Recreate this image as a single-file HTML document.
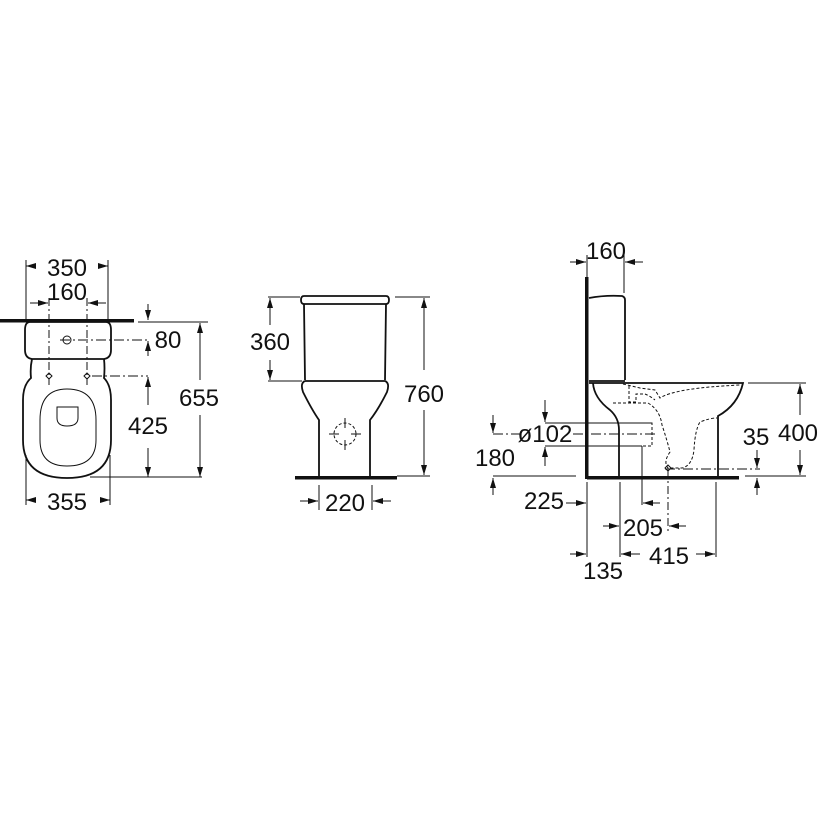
<!DOCTYPE html>
<html><head><meta charset="utf-8"><style>
html,body{margin:0;padding:0;background:#fff}
svg{display:block}
text{font-family:"Liberation Sans",sans-serif;font-size:24px;fill:#111}
</style></head><body>
<svg width="819" height="819" viewBox="0 0 819 819" xmlns="http://www.w3.org/2000/svg">
<defs>
<marker id="a" viewBox="0 0 10 6" refX="10" refY="3" markerWidth="10" markerHeight="6" markerUnits="userSpaceOnUse" orient="auto"><path d="M0,0 L10,3 L0,6 Z" fill="#111"/></marker>
</defs>
<g fill="none" stroke="#111" stroke-width="1">
<!-- LEFT VIEW -->
<line x1="26" y1="260" x2="26" y2="320"/><line x1="108" y1="260" x2="108" y2="320"/>
<line x1="36" y1="266" x2="26" y2="266" marker-end="url(#a)"/><line x1="98" y1="266" x2="108" y2="266" marker-end="url(#a)"/>
<line x1="49" y1="298" x2="49" y2="385" stroke-dasharray="8,3,2,3"/><line x1="87" y1="298" x2="87" y2="385" stroke-dasharray="8,3,2,3"/>
<line x1="30" y1="303" x2="48" y2="303" marker-end="url(#a)"/><line x1="106" y1="303" x2="88" y2="303" marker-end="url(#a)"/>
<rect x="0" y="319" width="134" height="3.5" fill="#111" stroke="none"/>
<path d="M30,322 H106 Q111,322 111,330 V350 Q111,358 104,359 H32 Q25,358 25,350 V330 Q25,322 30,322 Z" stroke-width="1.8"/>
<circle cx="67" cy="340" r="4"/>
<line x1="60" y1="340" x2="148" y2="340" stroke-dasharray="10,3,2,3"/>
<path d="M32,359 Q30,368 31,378 Q23,385 23,400 V440 Q23,478 67,478 Q111,478 111,440 V400 Q111,385 104,378 Q105,368 104,359" stroke-width="1.8"/>
<path d="M67,389 Q96,389 96,420 V440 Q96,466 67,466 Q40,466 40,440 V420 Q40,389 67,389 Z"/>
<path d="M57,407 H78 V418 Q78,426 67,426 Q57,426 57,418 Z"/>
<path d="M49,373 L52,376 L49,379 L46,376 Z M87,373 L90,376 L87,379 L84,376 Z"/>
<line x1="92" y1="376" x2="148" y2="376" stroke-dasharray="10,3,2,3"/>
<line x1="148" y1="304" x2="148" y2="320" marker-end="url(#a)"/><line x1="148" y1="356" x2="148" y2="341" marker-end="url(#a)"/>
<line x1="138" y1="322" x2="208" y2="322"/>
<line x1="148" y1="405" x2="148" y2="377" marker-end="url(#a)"/><line x1="148" y1="448" x2="148" y2="477" marker-end="url(#a)"/>
<line x1="200" y1="380" x2="200" y2="323" marker-end="url(#a)"/><line x1="200" y1="415" x2="200" y2="477" marker-end="url(#a)"/>
<line x1="90" y1="477" x2="202" y2="477"/>
<line x1="26" y1="455" x2="26" y2="505"/><line x1="110" y1="455" x2="110" y2="505"/>
<line x1="36" y1="500" x2="26" y2="500" marker-end="url(#a)"/><line x1="100" y1="500" x2="110" y2="500" marker-end="url(#a)"/>
<!-- MIDDLE VIEW -->
<path d="M304,296 H386 Q389,296 389,300 Q389,304 386,304 H304 Q301,304 301,300 Q301,296 304,296 Z" stroke-width="1.8"/>
<path d="M304,304 L305,380 M386,304 L385,380" stroke-width="1.8"/>
<path d="M305,381 H385 Q390,383 387,392 Q378,410 370,420 V476 M305,381 Q300,383 303,392 Q312,410 319,420 V476" stroke-width="1.8"/>
<rect x="295" y="476" width="102" height="3.5" fill="#111" stroke="none"/>
<circle cx="345" cy="434" r="11" stroke-dasharray="3,2"/>
<path d="M345,418 V428 M345,440 V450 M329,434 H339 M351,434 H361"/>
<line x1="268" y1="297" x2="300" y2="297"/><line x1="268" y1="381" x2="302" y2="381"/>
<line x1="270" y1="325" x2="270" y2="298" marker-end="url(#a)"/><line x1="270" y1="360" x2="270" y2="380" marker-end="url(#a)"/>
<line x1="395" y1="297" x2="430" y2="297"/><line x1="397" y1="476" x2="430" y2="476"/>
<line x1="424" y1="370" x2="424" y2="298" marker-end="url(#a)"/><line x1="424" y1="410" x2="424" y2="475" marker-end="url(#a)"/>
<line x1="319" y1="485" x2="319" y2="510"/><line x1="372" y1="485" x2="372" y2="510"/>
<line x1="300" y1="501" x2="318" y2="501" marker-end="url(#a)"/><line x1="391" y1="501" x2="373" y2="501" marker-end="url(#a)"/>
<!-- RIGHT VIEW -->
<rect x="585" y="277" width="3.5" height="202" fill="#111" stroke="none"/>
<line x1="587" y1="255" x2="587" y2="277"/><line x1="624" y1="255" x2="624" y2="293"/>
<line x1="570" y1="262" x2="586" y2="262" marker-end="url(#a)"/><line x1="643" y1="262" x2="625" y2="262" marker-end="url(#a)"/>
<path d="M589,298 Q605,295 622,296 Q625,297 625,300 V380" stroke-width="1.8"/>
<line x1="589" y1="381" x2="625" y2="381" stroke-width="1.8"/>
<path d="M589,383 H743 Q738,405 718,416 V477" stroke-width="1.8"/>
<path d="M593,383 Q594,398 610,410 Q619,418 619,430 V477" stroke-width="1.8"/>
<rect x="587" y="476" width="152" height="3.5" fill="#111" stroke="none"/>
<g stroke-dasharray="3,2">
<path d="M623,384 L640,388 L655,390 L660,398 Q675,388 740,385"/>
<path d="M629,386 V402 H636 V394 H645 Q650,396 655,400"/>
<path d="M613,403 H648 Q660,410 662,425 Q667,440 670,452 Q663,462 668,468 H682 Q692,466 694,450 Q695,430 700,422 Q710,418 717,418"/>
<path d="M641,423 H652 V446 H641"/>
</g>
<line x1="545" y1="423" x2="652" y2="423"/><line x1="545" y1="446" x2="642" y2="446"/>
<line x1="493" y1="434" x2="520" y2="434" stroke-dasharray="10,3,2,3"/>
<line x1="573" y1="434" x2="656" y2="434" stroke-dasharray="10,3,2,3"/>
<line x1="545" y1="400" x2="545" y2="422" marker-end="url(#a)"/><line x1="545" y1="466" x2="545" y2="447" marker-end="url(#a)"/>
<line x1="493" y1="415" x2="493" y2="433" marker-end="url(#a)"/><line x1="493" y1="495" x2="493" y2="478" marker-end="url(#a)"/>
<line x1="493" y1="476" x2="576" y2="476"/>
<line x1="566" y1="503" x2="586" y2="503" marker-end="url(#a)"/>
<line x1="665" y1="469" x2="760" y2="469" stroke-dasharray="10,3,2,3"/>
<line x1="757" y1="450" x2="757" y2="468" marker-end="url(#a)"/><line x1="757" y1="495" x2="757" y2="478" marker-end="url(#a)"/>
<line x1="748" y1="383" x2="806" y2="383"/><line x1="745" y1="476" x2="806" y2="476"/>
<line x1="800" y1="415" x2="800" y2="384" marker-end="url(#a)"/><line x1="800" y1="450" x2="800" y2="475" marker-end="url(#a)"/>
<line x1="587" y1="482" x2="587" y2="557"/><line x1="620" y1="482" x2="620" y2="557"/><line x1="642" y1="446" x2="642" y2="505"/>
<line x1="668" y1="470" x2="668" y2="532" stroke-dasharray="8,3,2,3"/><line x1="716" y1="482" x2="716" y2="557"/>
<line x1="660" y1="503" x2="643" y2="503" marker-end="url(#a)"/>
<line x1="603" y1="526" x2="619" y2="526" marker-end="url(#a)"/><line x1="686" y1="526" x2="669" y2="526" marker-end="url(#a)"/>
<line x1="570" y1="554" x2="586" y2="554" marker-end="url(#a)"/><line x1="640" y1="554" x2="621" y2="554" marker-end="url(#a)"/>
<line x1="696" y1="554" x2="715" y2="554" marker-end="url(#a)"/>
<path d="M668,465 L671,468 L668,471 L665,468 Z"/>
</g>
<g>
<text x="67" y="276" text-anchor="middle">350</text>
<text x="67" y="300" text-anchor="middle">160</text>
<text x="168" y="348" text-anchor="middle">80</text>
<text x="148" y="434" text-anchor="middle">425</text>
<text x="199" y="406" text-anchor="middle">655</text>
<text x="67" y="510" text-anchor="middle">355</text>
<text x="270" y="350" text-anchor="middle">360</text>
<text x="424" y="402" text-anchor="middle">760</text>
<text x="345" y="511" text-anchor="middle">220</text>
<text x="606" y="259" text-anchor="middle">160</text>
<text x="798" y="441" text-anchor="middle">400</text>
<text x="756" y="445" text-anchor="middle">35</text>
<text x="545" y="442" text-anchor="middle">ø102</text>
<text x="495" y="466" text-anchor="middle">180</text>
<text x="544" y="509" text-anchor="middle">225</text>
<text x="643" y="536" text-anchor="middle">205</text>
<text x="603" y="579" text-anchor="middle">135</text>
<text x="669" y="564" text-anchor="middle">415</text>
</g>
</svg>
</body></html>
